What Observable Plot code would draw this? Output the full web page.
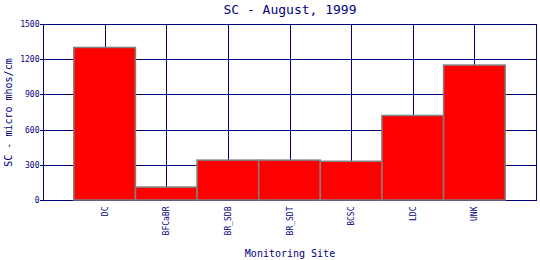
<!DOCTYPE html>
<html>
<head>
<meta charset="utf-8">
<script src="https://cdn.jsdelivr.net/npm/d3@7"></script>
<script src="https://cdn.jsdelivr.net/npm/@observablehq/plot@0.6"></script>
<style>
  html, body { margin: 0; padding: 0; background: #fff; }
</style>
</head>
<body>
<div id="chart"></div>
<script>
const sites = ["DC", "BFCaBR", "BR_SDB", "BR_SDT", "BCSC", "LDC", "UNK"];
const scValues = [1300, 110, 340, 340, 330, 720, 1150];
const yTicks = [0, 300, 600, 900, 1200, 1500];
const titleText = "SC - August, 1999";
const xLabel = "Monitoring Site";
const yLabel = "SC - micro mhos/cm";

const data = sites.map((s, i) => ({site: s, value: scValues[i]}));
const navy = "#000080";
const font = "DejaVu Sans Mono, monospace";
const crisp = "crispEdges";

const chart = Plot.plot({
  width: 540,
  height: 260,
  marginTop: 24,
  marginLeft: 43,
  marginRight: 4,
  marginBottom: 60,
  style: {fontFamily: font, fontSize: "8px", color: navy, background: "#fff"},
  x: {type: "band", domain: sites, paddingInner: 0, paddingOuter: 0.5, round: false, label: null},
  y: {domain: [0, 1500], label: null},
  marks: [
    Plot.gridX(sites, {stroke: navy, strokeOpacity: 1, strokeWidth: 1, shapeRendering: crisp}),
    Plot.gridY(yTicks, {stroke: navy, strokeOpacity: 1, strokeWidth: 1, shapeRendering: crisp}),
    Plot.frame({stroke: navy, strokeWidth: 1, shapeRendering: crisp}),
    Plot.barY(data, {x: "site", y: "value", fill: "#ff0000", stroke: "#808080", strokeWidth: 1.5, inset: 0}),
    Plot.axisY(yTicks, {tickSize: 3, tickPadding: 1, stroke: navy, fill: navy, fontSize: 8, label: null, tickFormat: d => String(d), shapeRendering: crisp}),
    Plot.axisX(sites, {tickSize: 0, tickPadding: 6, tickRotate: -90, fill: navy, fontSize: 8, label: null}),
    Plot.text([titleText], {frameAnchor: "top", dy: -15, fontSize: 13, fill: navy, lineAnchor: "middle"}),
    Plot.text([xLabel], {frameAnchor: "bottom", dy: 53, fontSize: 10, fill: navy, lineAnchor: "middle"}),
    Plot.text([yLabel], {frameAnchor: "left", dx: -35, rotate: -90, fontSize: 10, fill: navy, textAnchor: "middle", lineAnchor: "middle"})
  ]
});
document.getElementById("chart").appendChild(chart);
</script>
</body>
</html>
